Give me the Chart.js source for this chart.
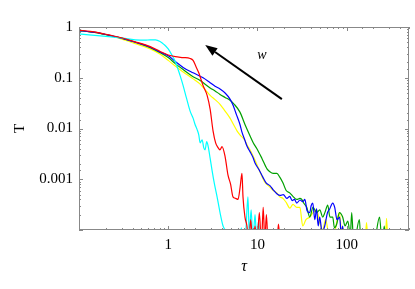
<!DOCTYPE html>
<html>
<head>
<meta charset="utf-8">
<script src="https://cdn.jsdelivr.net/npm/chart.js@4/dist/chart.umd.min.js"></script>
<style>
  body { margin: 0; background: #fff; }
</style>
</head>
<body>
<canvas id="grafico" width="415" height="289"></canvas>
<script>
// tau (x) e T (y) de cada curva
var tauRed = [0.1, 0.134, 0.174, 0.214, 0.291, 0.428, 0.629, 0.814, 1.0, 1.2, 1.47, 1.76, 1.9, 2.05, 2.2, 2.46, 2.73, 2.95, 3.18, 3.4, 3.62, 3.8, 4.01, 4.34, 4.68, 5.0, 5.32, 5.7, 6.06, 6.4, 6.71, 6.89, 7.25, 7.63, 8.0, 8.4, 8.9, 9.4, 9.9, 10.5, 11.1, 11.6, 12.1, 12.6, 13.2, 14, 16.5, 17.2, 18];
var tRed = [0.87, 0.82, 0.76, 0.70, 0.62, 0.51, 0.41, 0.33, 0.28, 0.26, 0.25, 0.24, 0.22, 0.165, 0.125, 0.07, 0.045, 0.024, 0.009, 0.0052, 0.0042, 0.0038, 0.0044, 0.0028, 0.0012, 0.0008, 0.00045, 0.00042, 0.0004, 0.0007, 0.0013, 0.00045, 0.00018, 0.00012, 0.00005, 0.00016, 0.00005, 0.00012, 0.00005, 0.00022, 0.00005, 0.00028, 0.00006, 0.0002, 0.00005, 0.00005, 0.00005, 0.00013, 0.00005];

var tauCyan = [0.1, 0.174, 0.291, 0.428, 0.55, 0.63, 0.72, 0.81, 0.9, 1.0, 1.1, 1.2, 1.36, 1.47, 1.6, 1.76, 1.9, 2.0, 2.11, 2.2, 2.28, 2.4, 2.5, 2.59, 2.7, 2.8, 2.95, 3.1, 3.3, 3.53, 3.81, 4.12, 4.5, 4.9, 5.5, 6.2, 6.6, 7.0, 7.4, 7.83, 8.1, 8.5, 8.9, 9.4, 9.8, 10.3, 10.8, 11.5];
var tCyan = [0.73, 0.67, 0.61, 0.56, 0.55, 0.56, 0.56, 0.52, 0.45, 0.37, 0.28, 0.21, 0.11, 0.07, 0.04, 0.022, 0.016, 0.012, 0.0095, 0.0075, 0.0052, 0.006, 0.0042, 0.0038, 0.0055, 0.0045, 0.0026, 0.0015, 0.0008, 0.00045, 0.00022, 0.00012, 0.00009, 0.00005, 0.00005, 0.00005, 0.00011, 0.00005, 0.00009, 0.00045, 0.00008, 0.00025, 0.00006, 0.0002, 0.00007, 0.00015, 0.00005, 0.00005];

var tauBlue = [0.1, 0.134, 0.174, 0.214, 0.291, 0.428, 0.629, 0.814, 1.0, 1.2, 1.47, 1.9, 2.46, 2.95, 3.35, 3.81, 4.34, 4.93, 5.32, 5.8, 6.37, 6.71, 7.25, 7.63, 8.25, 8.9, 9.4, 10.5, 11.5, 12.5, 13.8, 15, 16.5, 18, 19.5, 21.4, 23, 24.5, 26, 27.6, 30, 32.2, 34, 36, 38.6, 40, 41.7, 44, 46, 48, 49.9, 53, 56.8, 61, 64.6, 69.8, 73.5, 78, 83.5, 87, 90.2, 95, 100];
var tBlue = [0.85, 0.80, 0.75, 0.69, 0.61, 0.50, 0.40, 0.32, 0.27, 0.21, 0.16, 0.125, 0.1, 0.08, 0.068, 0.06, 0.05, 0.038, 0.029, 0.019, 0.012, 0.0085, 0.0058, 0.0045, 0.0035, 0.0027, 0.0021, 0.0015, 0.0011, 0.00085, 0.00075, 0.00062, 0.00052, 0.00048, 0.0005, 0.00042, 0.00046, 0.00038, 0.0004, 0.00034, 0.00039, 0.00036, 0.0004, 0.00024, 0.00022, 0.0003, 0.00034, 0.00016, 0.00026, 0.00012, 0.00018, 0.00009, 0.00012, 0.00022, 0.00026, 0.00034, 0.00028, 0.00016, 0.00018, 0.00008, 0.00012, 0.00005, 0.00005];

var tauGreen = [0.1, 0.134, 0.174, 0.214, 0.291, 0.428, 0.629, 0.814, 1.0, 1.2, 1.47, 1.9, 2.28, 2.95, 3.35, 3.81, 4.34, 4.93, 5.5, 6.37, 7.25, 8.25, 9.0, 9.87, 11.2, 12.8, 13.8, 15, 16.5, 17.8, 19.3, 21, 23, 25, 27.6, 29.9, 31.4, 33, 35.7, 38.6, 42, 46.2, 50, 53.9, 57, 61.4, 65, 69.8, 73, 77.3, 83, 90.2, 96, 103, 110, 114, 120, 139, 145, 200, 234, 250, 264, 275];
var tGreen = [0.85, 0.80, 0.75, 0.69, 0.61, 0.50, 0.39, 0.31, 0.25, 0.19, 0.145, 0.105, 0.088, 0.063, 0.055, 0.047, 0.041, 0.036, 0.03, 0.021, 0.012, 0.0072, 0.0052, 0.004, 0.0026, 0.0016, 0.0014, 0.0013, 0.0013, 0.0011, 0.00085, 0.0006, 0.00054, 0.00046, 0.0004, 0.00042, 0.0004, 0.00034, 0.00028, 0.00018, 0.00028, 0.00022, 0.00025, 0.00018, 0.00022, 0.00031, 0.00018, 0.00018, 0.00011, 0.00013, 0.00022, 0.00018, 0.00012, 0.00015, 0.00008, 0.00022, 0.00005, 0.00016, 0.00005, 0.00005, 0.00018, 0.00005, 0.00012, 0.00005];

var tauYellow = [0.1, 0.134, 0.174, 0.214, 0.291, 0.428, 0.629, 0.814, 1.0, 1.2, 1.47, 1.9, 2.28, 2.46, 2.95, 3.35, 3.81, 4.34, 4.93, 5.32, 5.9, 6.37, 7.25, 7.63, 8.25, 9.38, 10.5, 12.1, 13.8, 15, 16.5, 17.8, 19.3, 21, 23.1, 25, 27.6, 29.9, 32.2, 35, 38.6, 42, 46.2, 50, 53.9, 58, 63, 70, 76, 83, 90, 100, 160, 167, 175, 270, 280, 290];
var tYellow = [0.85, 0.80, 0.74, 0.68, 0.59, 0.47, 0.37, 0.29, 0.22, 0.17, 0.13, 0.095, 0.075, 0.065, 0.045, 0.037, 0.03, 0.022, 0.016, 0.0125, 0.009, 0.0075, 0.0058, 0.0048, 0.0038, 0.0024, 0.0015, 0.00088, 0.0007, 0.0006, 0.00054, 0.00045, 0.00042, 0.00035, 0.00027, 0.00032, 0.00028, 0.00028, 0.00012, 0.00016, 0.00018, 0.00022, 0.00025, 0.00014, 0.0001, 0.00016, 0.00008, 0.00005, 0.00012, 0.00022, 0.00005, 0.00005, 0.00005, 0.00014, 0.00005, 0.00005, 0.00017, 0.00005];

// seta do w (pontas em coordenadas de dados)
var arrowFrom = [18.8, 0.038];
var arrowTo = [2.6, 0.44];
var arrowLabelAt = [11.2, 0.28];

function pares(xs, ys) {
    var out = [];
    for (var i = 0; i < xs.length; i++) out.push({x: xs[i], y: ys[i]});
    return out;
}

function ehDecada(v) {
    var l = Math.log10(v);
    return Math.abs(l - Math.round(l)) < 1e-9;
}

function serie(label, xs, ys, cor) {
    return {
        label: label,
        data: pares(xs, ys),
        borderColor: cor,
        borderWidth: 1.2,
        pointRadius: 0,
        showLine: true,
        fill: false,
        cubicInterpolationMode: 'monotone'
    };
}

// moldura + ticks para dentro nos quatro lados, seta e w
var moldura = {
    id: 'moldura',
    afterDraw(chart) {
        var ctx = chart.ctx, a = chart.chartArea, sx = chart.scales.x, sy = chart.scales.y;
        ctx.save();
        ctx.strokeStyle = '#888';
        ctx.lineWidth = 1;
        ctx.strokeRect(a.left + 0.5, a.top + 0.5, a.right - a.left - 1, a.bottom - a.top - 1);
        ctx.beginPath();
        sx.ticks.forEach(function (t) {
            var px = Math.round(sx.getPixelForValue(t.value)) + 0.5;
            var len = ehDecada(t.value) ? 4 : 2;
            ctx.moveTo(px, a.bottom); ctx.lineTo(px, a.bottom - len);
            ctx.moveTo(px, a.top); ctx.lineTo(px, a.top + len);
        });
        sy.ticks.forEach(function (t) {
            var py = Math.round(sy.getPixelForValue(t.value)) + 0.5;
            var len = ehDecada(t.value) ? 4 : 2;
            ctx.moveTo(a.left, py); ctx.lineTo(a.left + len, py);
            ctx.moveTo(a.right, py); ctx.lineTo(a.right - len, py);
        });
        ctx.stroke();

        // seta
        var x0 = sx.getPixelForValue(arrowFrom[0]), y0 = sy.getPixelForValue(arrowFrom[1]);
        var x1 = sx.getPixelForValue(arrowTo[0]), y1 = sy.getPixelForValue(arrowTo[1]);
        var ang = Math.atan2(y1 - y0, x1 - x0);
        var hl = 12, hw = 4.5;
        var bx = x1 - hl * Math.cos(ang), by = y1 - hl * Math.sin(ang);
        ctx.strokeStyle = '#000';
        ctx.fillStyle = '#000';
        ctx.lineWidth = 2;
        ctx.beginPath();
        ctx.moveTo(x0, y0); ctx.lineTo(bx, by);
        ctx.stroke();
        ctx.beginPath();
        ctx.moveTo(x1, y1);
        ctx.lineTo(bx + hw * Math.sin(ang), by - hw * Math.cos(ang));
        ctx.lineTo(bx - hw * Math.sin(ang), by + hw * Math.cos(ang));
        ctx.closePath();
        ctx.fill();

        ctx.font = 'italic 14px "Liberation Serif"';
        ctx.textAlign = 'center';
        ctx.textBaseline = 'middle';
        ctx.fillText('w', sx.getPixelForValue(arrowLabelAt[0]), sy.getPixelForValue(arrowLabelAt[1]));
        ctx.restore();
    }
};

var fonteTicks = {family: '"Liberation Serif"', size: 15};

new Chart(document.getElementById('grafico'), {
    type: 'scatter',
    data: {
        datasets: [
            serie('red', tauRed, tRed, '#ff0000'),
            serie('cyan', tauCyan, tCyan, '#00ffff'),
            serie('blue', tauBlue, tBlue, '#0000ff'),
            serie('green', tauGreen, tGreen, '#00a000'),
            serie('yellow', tauYellow, tYellow, '#ffff00')
        ]
    },
    options: {
        responsive: false,
        animation: false,
        layout: {padding: {top: 27, right: 6, left: 0, bottom: 0}},
        plugins: {legend: {display: false}, tooltip: {enabled: false}},
        scales: {
            x: {
                type: 'logarithmic',
                min: 0.1,
                max: 500,
                grid: {display: false, drawTicks: false},
                border: {display: false},
                ticks: {
                    autoSkip: false,
                    maxRotation: 0,
                    padding: 6,
                    color: '#000',
                    font: fonteTicks,
                    callback: function (v) { return (ehDecada(v) && v >= 1) ? String(v) : ''; }
                },
                title: {display: true, text: 'τ', color: '#000', font: {family: '"Liberation Serif"', size: 16, style: 'italic'}, padding: {top: 0, bottom: 13}},
                afterFit: function (s) { s.height = 59; }
            },
            y: {
                type: 'logarithmic',
                min: 0.0001,
                max: 1,
                grid: {display: false, drawTicks: false},
                border: {display: false},
                ticks: {
                    autoSkip: false,
                    padding: 6,
                    color: '#000',
                    font: fonteTicks,
                    callback: function (v) { return (ehDecada(v) && v > 0.0002) ? String(v) : ''; }
                },
                title: {display: true, text: 'T', color: '#000', font: {family: '"Liberation Serif"', size: 15}, padding: {top: 11, bottom: 0}},
                afterFit: function (s) { s.width = 79; }
            }
        }
    },
    plugins: [moldura]
});
</script>
</body>
</html>
